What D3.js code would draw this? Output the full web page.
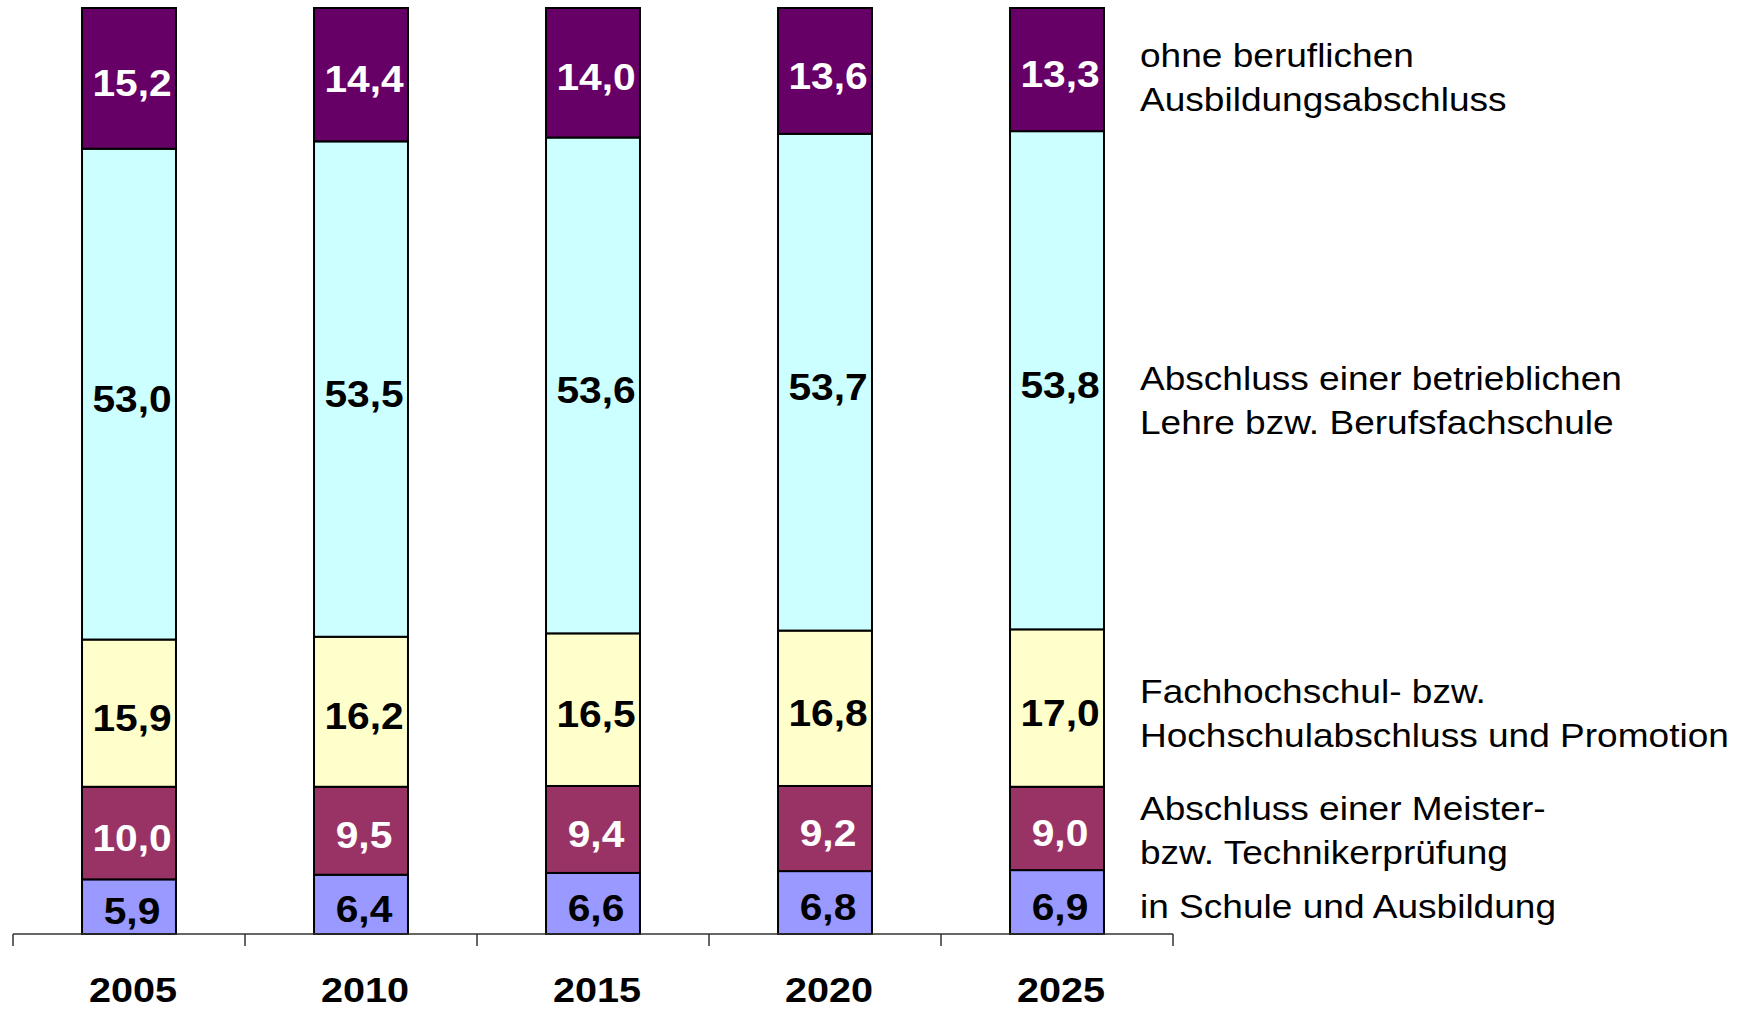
<!DOCTYPE html>
<html>
<head>
<meta charset="utf-8">
<script src="https://cdn.jsdelivr.net/npm/d3@7"></script>
<style>
  body { margin: 0; background: #fff; }
  text { font-family: 'Liberation Sans', Arial, sans-serif; }
</style>
</head>
<body>
<div id="chart"></div>
<script>
// data (percent)
var years = ['2005', '2010', '2015', '2020', '2025']
var schule = [5.9, 6.4, 6.6, 6.8, 6.9]
var meister = [10.0, 9.5, 9.4, 9.2, 9.0]
var hochschule = [15.9, 16.2, 16.5, 16.8, 17.0]
var lehre = [53.0, 53.5, 53.6, 53.7, 53.8]
var ohne = [15.2, 14.4, 14.0, 13.6, 13.3]

var seriesKeys = ['schule', 'meister', 'hochschule', 'lehre', 'ohne']
var seriesNames = [
  ['in Schule und Ausbildung'],
  ['Abschluss einer Meister-', 'bzw. Technikerprüfung'],
  ['Fachhochschul- bzw.', 'Hochschulabschluss und Promotion'],
  ['Abschluss einer betrieblichen', 'Lehre bzw. Berufsfachschule'],
  ['ohne beruflichen', 'Ausbildungsabschluss'],
]
var seriesColors = ['#9999FF', '#993366', '#FFFFCC', '#CCFFFF', '#660066']
var labelColors = ['#000', '#fff', '#000', '#000', '#fff']

var width = 1748
var height = 1010
var stretch = 1.09 // the original text is a little wider than Arial

var table = years.map(function (yr, i) {
  return {
    year: yr,
    schule: schule[i],
    meister: meister[i],
    hochschule: hochschule[i],
    lehre: lehre[i],
    ohne: ohne[i],
  }
})

// 100% stacked, every column fills the full height
var stacked = d3.stack().keys(seriesKeys).offset(d3.stackOffsetExpand)(table)

var svg = d3
  .select('#chart')
  .append('svg')
  .attr('width', width)
  .attr('height', height)

var x = d3
  .scaleBand()
  .domain(years)
  .range([13, 1173])
  .paddingInner(0.595)
  .paddingOuter(0.2975)

var y = d3.scaleLinear().domain([0, 1]).range([934, 8])

var colour = d3.scaleOrdinal().domain(seriesKeys).range(seriesColors)
var textCol = d3.scaleOrdinal().domain(seriesKeys).range(labelColors)

// bars
var groups = svg
  .append('g')
  .selectAll('g')
  .data(stacked)
  .join('g')
  .attr('fill', function (d) {
    return colour(d.key)
  })

groups
  .selectAll('rect')
  .data(function (d) {
    return d
  })
  .join('rect')
  .attr('x', function (d) {
    return x(d.data.year)
  })
  .attr('y', function (d) {
    return y(d[1])
  })
  .attr('width', x.bandwidth())
  .attr('height', function (d) {
    return y(d[0]) - y(d[1])
  })
  .attr('stroke', '#000')
  .attr('stroke-width', 2)

// value labels
groups
  .selectAll('text')
  .data(function (d) {
    return d.map(function (v) {
      v.key = d.key
      return v
    })
  })
  .join('text')
  .attr('transform', function (d) {
    var cx = x(d.data.year) + x.bandwidth() / 2 + 3
    var cy = (y(d[0]) + y(d[1])) / 2
    return 'translate(' + cx + ',' + cy + ') scale(1.1,1)'
  })
  .attr('dy', '0.476em')
  .attr('text-anchor', 'middle')
  .attr('font-size', 37)
  .attr('font-weight', 'bold')
  .attr('fill', function (d) {
    return textCol(d.key)
  })
  .text(function (d) {
    return d3.format('.1f')(d.data[d.key]).replace('.', ',')
  })

// axis line with ticks between categories
var step = x.step()
var axis = svg.append('g').attr('stroke', '#333').attr('stroke-width', 1.5)
axis
  .append('line')
  .attr('x1', x.range()[0])
  .attr('x2', x.range()[1])
  .attr('y1', y(0))
  .attr('y2', y(0))
axis
  .selectAll('.tick')
  .data(d3.range(years.length + 1))
  .join('line')
  .attr('class', 'tick')
  .attr('x1', function (i) {
    return x.range()[0] + i * step
  })
  .attr('x2', function (i) {
    return x.range()[0] + i * step
  })
  .attr('y1', y(0))
  .attr('y2', y(0) + 12)

// year labels
svg
  .append('g')
  .selectAll('text')
  .data(years)
  .join('text')
  .attr('transform', function (d) {
    return 'translate(' + (x(d) + x.bandwidth() / 2 + 4) + ',1002) scale(1.1,1)'
  })
  .attr('text-anchor', 'middle')
  .attr('font-size', 36)
  .attr('font-weight', 'bold')
  .attr('fill', '#000')
  .text(function (d) {
    return d
  })

// series names on the right
var nameTop = [918, 820, 703, 390, 67]
var lineGap = 44.5
var legend = svg.append('g').attr('font-size', 34).attr('fill', '#000')
seriesNames.forEach(function (lines, i) {
  legend
    .append('text')
    .attr('transform', 'translate(1140,' + nameTop[i] + ') scale(' + stretch + ',1)')
    .selectAll('tspan')
    .data(lines)
    .join('tspan')
    .attr('x', 0)
    .attr('y', function (d, j) {
      return j * lineGap
    })
    .text(function (d) {
      return d
    })
})
</script>
</body>
</html>
